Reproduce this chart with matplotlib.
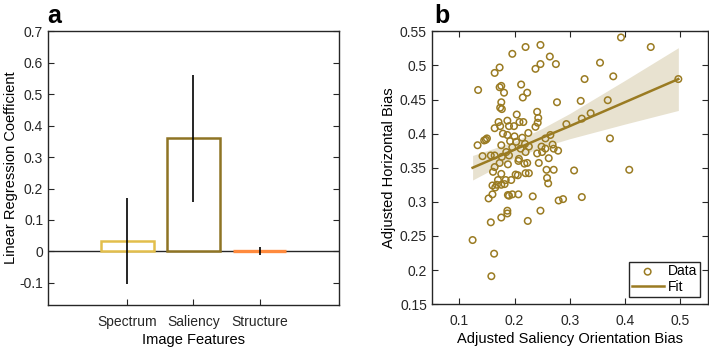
import matplotlib
matplotlib.use('Agg')
import matplotlib.pyplot as plt
import numpy as np

plt.rcParams['font.family'] = ['Liberation Sans', 'DejaVu Sans']
plt.rcParams['font.size'] = 10

# panel a: regression coefficients
features = ['Spectrum', 'Saliency', 'Structure']
coef = [0.033, 0.360, 0.003]
err_low = [-0.104, 0.156, -0.010]
err_high = [0.170, 0.560, 0.015]
bar_colors = ['#E2BE4C', '#8E7424', '#FF8A3D']

# panel b: scatter data
sal_x = [0.393, 0.447, 0.220, 0.247, 0.196, 0.264, 0.275, 0.247, 0.238, 0.173,
         0.164, 0.355, 0.379, 0.327, 0.497, 0.134, 0.173, 0.176, 0.181, 0.212,
         0.223, 0.215, 0.176, 0.174, 0.177, 0.277, 0.320, 0.369, 0.338, 0.322,
         0.294, 0.241, 0.243, 0.204, 0.216, 0.209, 0.187, 0.171, 0.164, 0.174,
         0.190, 0.199, 0.242, 0.238, 0.179, 0.187, 0.200, 0.225, 0.214, 0.265,
         0.256, 0.373, 0.133, 0.145, 0.150, 0.148, 0.176, 0.192, 0.203, 0.196,
         0.219, 0.211, 0.226, 0.249, 0.269, 0.271, 0.279, 0.256, 0.262, 0.250,
         0.241, 0.244, 0.220, 0.185, 0.190, 0.177, 0.142, 0.157, 0.164, 0.208,
         0.207, 0.223, 0.218, 0.188, 0.164, 0.173, 0.161, 0.176, 0.206, 0.202,
         0.220, 0.226, 0.258, 0.271, 0.308, 0.408, 0.259, 0.261, 0.170, 0.184,
         0.194, 0.160, 0.168, 0.176, 0.182, 0.165, 0.188, 0.190, 0.207, 0.153,
         0.233, 0.280, 0.288, 0.322, 0.247, 0.176, 0.187, 0.187, 0.157, 0.224,
         0.124, 0.163, 0.158, 0.160, 0.196]
hor_bias = [0.541, 0.527, 0.527, 0.530, 0.517, 0.513, 0.502, 0.502, 0.495, 0.497,
            0.489, 0.504, 0.484, 0.480, 0.480, 0.464, 0.468, 0.470, 0.460, 0.472,
            0.460, 0.453, 0.446, 0.438, 0.436, 0.446, 0.448, 0.449, 0.430, 0.422,
            0.414, 0.432, 0.423, 0.428, 0.417, 0.417, 0.419, 0.417, 0.408, 0.411,
            0.411, 0.411, 0.416, 0.410, 0.400, 0.398, 0.396, 0.401, 0.394, 0.398,
            0.393, 0.393, 0.383, 0.390, 0.393, 0.391, 0.383, 0.389, 0.388, 0.380,
            0.385, 0.378, 0.381, 0.381, 0.384, 0.378, 0.375, 0.378, 0.364, 0.373,
            0.371, 0.357, 0.373, 0.373, 0.368, 0.366, 0.367, 0.368, 0.368, 0.363,
            0.360, 0.357, 0.356, 0.355, 0.351, 0.357, 0.344, 0.341, 0.339, 0.340,
            0.342, 0.342, 0.347, 0.347, 0.346, 0.347, 0.335, 0.327, 0.332, 0.332,
            0.332, 0.324, 0.325, 0.325, 0.326, 0.321, 0.310, 0.309, 0.311, 0.305,
            0.308, 0.302, 0.304, 0.307, 0.287, 0.277, 0.287, 0.283, 0.270, 0.272,
            0.244, 0.224, 0.191, 0.311, 0.311]

# fit line and confidence band
fit_x = [0.124, 0.2, 0.25, 0.3, 0.4, 0.497]
fit_y = [0.350, 0.3765, 0.394, 0.411, 0.446, 0.480]
fit_hw = [0.018, 0.012, 0.0136, 0.0185, 0.032, 0.046]

olive = '#9A7B22'
band = '#E8E2D0'
frame = '#262626'
label_fs = 10.5
tick_fs = 10

fig = plt.figure(figsize=(7.09, 3.48), dpi=100)

# ---- panel a
ax1 = fig.add_axes([0.0677, 0.1236, 0.4104, 0.787])
xpos = np.arange(1, len(features) + 1)
for i in range(len(features)):
    if features[i] == 'Structure':
        ax1.bar(xpos[i], coef[i], width=0.8, color=bar_colors[i],
                edgecolor=bar_colors[i], linewidth=2.4, zorder=2)
    else:
        ax1.bar(xpos[i], coef[i], width=0.8, facecolor='white',
                edgecolor=bar_colors[i], linewidth=1.8, zorder=2)
ax1.axhline(0, color=frame, linewidth=1.0, zorder=1)
ax1.vlines(xpos, err_low, err_high, color='black', linewidth=1.2, zorder=3)
ax1.set_xlim(-0.2, 4.2)
ax1.set_ylim(-0.17, 0.7)
ax1.set_xticks(xpos)
ax1.set_xticklabels(features)
yt = [-0.1, 0, 0.1, 0.2, 0.3, 0.4, 0.5, 0.6, 0.7]
ax1.set_yticks(yt)
ax1.set_yticklabels(['-0.1', '0', '0.1', '0.2', '0.3', '0.4', '0.5', '0.6', '0.7'])
ax1.tick_params(axis='y', direction='in', right=True, length=4, colors=frame,
                labelsize=tick_fs)
ax1.tick_params(axis='x', direction='in', length=4, colors=frame, pad=7,
                labelsize=tick_fs)
ax1.set_xlabel('Image Features', labelpad=3, fontsize=label_fs)
ax1.set_ylabel('Linear Regression Coefficient', labelpad=1, fontsize=label_fs)
for s in ax1.spines.values():
    s.set_color(frame)
    s.set_linewidth(1.0)
fig.text(0.066, 0.955, 'a', fontsize=18, fontweight='bold', ha='left', va='center')

# ---- panel b
ax2 = fig.add_axes([0.609, 0.126, 0.389, 0.784])
ax2.fill_between(fit_x, np.array(fit_y) - np.array(fit_hw),
                 np.array(fit_y) + np.array(fit_hw), color=band, linewidth=0, zorder=1)
ax2.scatter(sal_x, hor_bias, s=22, facecolors='none', edgecolors=olive,
            linewidths=1.1, zorder=3, label='Data')
ax2.plot(fit_x, fit_y, color=olive, linewidth=1.8, zorder=2, label='Fit')
ax2.set_xlim(0.05, 0.55)
ax2.set_ylim(0.15, 0.55)
ax2.set_xticks([0.1, 0.2, 0.3, 0.4, 0.5])
ax2.set_xticklabels(['0.1', '0.2', '0.3', '0.4', '0.5'])
yt2 = [0.15, 0.2, 0.25, 0.3, 0.35, 0.4, 0.45, 0.5, 0.55]
ax2.set_yticks(yt2)
ax2.set_yticklabels(['0.15', '0.2', '0.25', '0.3', '0.35', '0.4', '0.45', '0.5', '0.55'])
ax2.tick_params(direction='in', top=True, right=True, length=4, colors=frame,
                labelsize=tick_fs)
ax2.tick_params(axis='x', pad=7)
ax2.set_xlabel('Adjusted Saliency Orientation Bias', labelpad=3, fontsize=label_fs)
ax2.set_ylabel('Adjusted Horizontal Bias', labelpad=3, fontsize=label_fs)
for s in ax2.spines.values():
    s.set_color(frame)
    s.set_linewidth(1.0)
leg = ax2.legend(loc='lower right', fancybox=False, edgecolor=frame,
                 framealpha=1, fontsize=tick_fs, handlelength=2.3,
                 borderpad=0.2, labelspacing=0.1, handletextpad=0.3,
                 borderaxespad=0.55)
leg.get_frame().set_linewidth(1.0)
fig.text(0.612, 0.955, 'b', fontsize=18, fontweight='bold', ha='left', va='center')

fig.savefig('out.png', dpi=100)
